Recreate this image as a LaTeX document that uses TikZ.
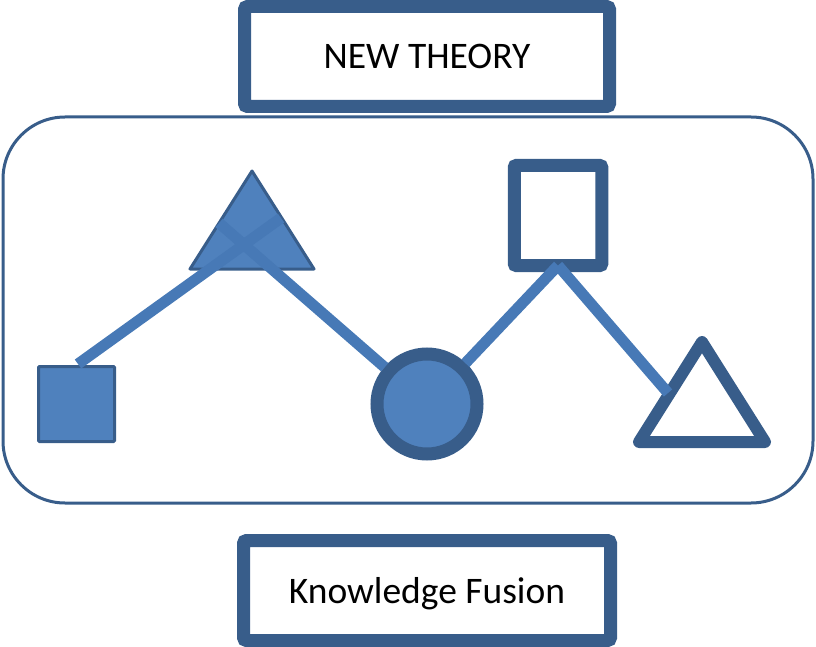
\documentclass[tikz,border=0pt]{standalone}
\usepackage{fontspec}
\setmainfont{Carlito}
\definecolor{bordc}{HTML}{385D8A}
\definecolor{fillc}{HTML}{4F81BD}
\definecolor{linec}{HTML}{4779B6}
\begin{document}
\begin{tikzpicture}[x=1pt,y=-1pt,
  titlebox/.style={draw=bordc,line width=13pt,rounded corners=3pt,fill=white,
    inner sep=0pt,font=\fontsize{37.5}{42}\selectfont,text depth=0pt},
  thinshape/.style={draw=bordc,line width=3pt,fill=fillc,rounded corners=1pt,inner sep=0pt},
  thickshape/.style={draw=bordc,line width=13pt,inner sep=0pt},
  link/.style={draw=linec,line width=11pt,line cap=butt}]
\useasboundingbox (0,0) rectangle (816,647);
% frame
\draw[draw=bordc,line width=3pt,rounded corners=62pt] (3,117) rectangle (813,503);
% title boxes
\node[titlebox,minimum width=365pt,minimum height=100pt] (top) at (427,56.5) {NEW THEORY};
\node[titlebox,minimum width=367pt,minimum height=100pt] (bot) at (427,590.5) {Knowledge Fusion};
% left filled square
\node[thinshape,minimum width=76pt,minimum height=75pt] (sq1) at (76.5,404) {};
% circle
\node[thickshape,circle,fill=fillc,minimum size=100pt] (circ) at (427,404) {};
% open square
\node[thickshape,rounded corners=2pt,fill=white,minimum width=87.5pt,minimum height=100pt] (sq2) at (558,215.5) {};
% filled triangle
\coordinate (t1a) at (252,171);
\coordinate (t1b) at (314,269);
\coordinate (t1c) at (190,269);
\draw[draw=bordc,line width=3pt,fill=fillc,line join=round] (t1a) -- (t1b) -- (t1c) -- cycle;
% open triangle
\coordinate (t2a) at (702,342);
\coordinate (t2b) at (765,442);
\coordinate (t2c) at (639,442);
\draw[draw=bordc,line width=12pt,line join=round] (t2a) -- (t2b) -- (t2c) -- cycle;
% connector end points
\coordinate (p1) at (78,364);
\coordinate (p2) at (281,218);
\coordinate (p3) at (219,223);
\coordinate (p4) at (384.7,367.3);
\coordinate (p5) at (465.4,363.2);
\coordinate (p6) at (558,265.5);
\coordinate (p7) at (668,393);
% connectors
\draw[link] (p1) -- (p2);
\draw[link] (p3) -- (p4);
\draw[link] (p5) -- (p6);
\draw[link] (p6) -- (p7);
\end{tikzpicture}
\end{document}
